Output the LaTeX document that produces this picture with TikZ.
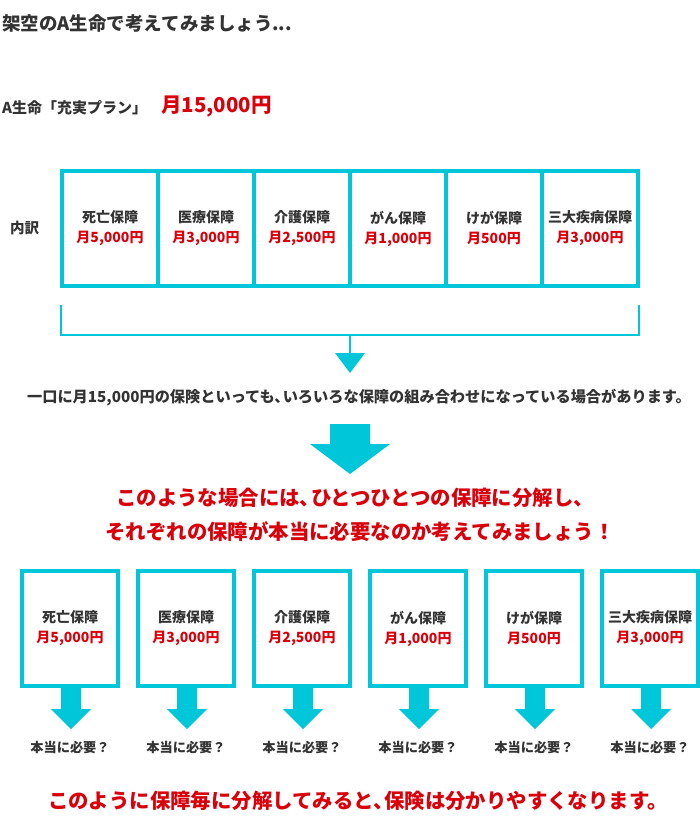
\documentclass[tikz,border=0pt]{standalone}
\usepackage{fontspec}
\setmainfont{Noto Sans CJK JP}
\usetikzlibrary{calc}
\definecolor{cy}{HTML}{00C6DA}
\definecolor{rd}{HTML}{D9000A}
\definecolor{txt}{HTML}{333333}
\newcommand\fsz[2]{\fontsize{#1}{#2}\selectfont}
\newcommand\jcomma{、\kern-0.45em}
\begin{document}
\begin{tikzpicture}[x=1pt,y=-1pt,
  every node/.style={inner sep=0pt,text=txt},
  cell/.style={draw=cy,line width=4pt,minimum width=96pt,minimum height=115pt,align=center,font=\fsz{14}{20}\bfseries},
  box/.style={draw=cy,line width=4pt,minimum width=96pt,minimum height=115pt,align=center,font=\fsz{14}{20}\bfseries},
  ask/.style={font=\fsz{13.2}{16}\bfseries},
  redhead/.style={font=\fsz{20.4}{24}\bfseries,text=rd},
  bline/.style={draw=cy,line width=2.5pt},
  blk/.style={fill=cy,draw=none}]
\useasboundingbox (0,0) rectangle (700,840);

\node[anchor=west,font=\fsz{18.5}{22}\bfseries] (title) at (2,24) {架空のA生命で考えてみましょう...};
\node[anchor=west,font=\fsz{15}{17}\bfseries] (plan) at (2,108) {A生命「充実プラン」};
\node[anchor=west,font=\fsz{20.5}{24}\bfseries,text=rd] (price) at (161,107) {月15,000円};
\node[anchor=west,font=\fsz{14.5}{17}\bfseries] (uchi) at (10,228) {内訳};

\node[cell] (c1) at (110,228.5) {死亡保障\\\textcolor{rd}{月5,000円}};
\node[cell] (c2) at (206,228.5) {医療保障\\\textcolor{rd}{月3,000円}};
\node[cell] (c3) at (302,228.5) {介護保障\\\textcolor{rd}{月2,500円}};
\node[cell] (c4) at (398,228.5) {がん保障\\\textcolor{rd}{月1,000円}};
\node[cell] (c5) at (494,228.5) {けが保障\\\textcolor{rd}{月500円}};
\node[cell] (c6) at (590,228.5) {三大疾病保障\\\textcolor{rd}{月3,000円}};

\coordinate (bl) at (61,305);
\coordinate (br) at (639,305);
\coordinate (bm) at (350,335);
\coordinate (tip) at (350,354);
\draw[bline] (bl) -- (bl |- bm) -- (br |- bm) -- (br);
\draw[cy,line width=2pt] (bm) -- (tip);
\fill[blk] ($(tip)+(-15,-1)$) -- ($(tip)+(15,-1)$) -- ($(tip)+(0,19)$) -- cycle;

\node[font=\fsz{15.2}{18}\bfseries] (note) at (359,398) {一口に月15,000円の保険といっても\jcomma いろいろな保障の組み合わせになっている場合があります。};

\fill[blk] (330,424) -- (370,424) -- (370,444) -- (390,444) -- (350,474) -- (310,444) -- (330,444) -- cycle;

\node[redhead] (head1) at (355,498) {このような場合には\jcomma ひとつひとつの保障に分解し、};
\node[redhead] (head2) at (360,532) {それぞれの保障が本当に必要なのか考えてみましょう！};

\foreach \i/\n/\a in {0/死亡保障/月5{,}000円,1/医療保障/月3{,}000円,2/介護保障/月2{,}500円,3/がん保障/月1{,}000円,4/けが保障/月500円,5/三大疾病保障/月3{,}000円}{
  \pgfmathsetmacro\cx{70+116*\i}
  \node[box] (b\i) at (\cx,628.5) {\n\\\textcolor{rd}{\a}};
  \fill[blk] ($(b\i.south)+(-9,0)$) -- ($(b\i.south)+(11,0)$) -- ($(b\i.south)+(11,21)$) -- ($(b\i.south)+(21,21)$) -- ($(b\i.south)+(1,41)$) -- ($(b\i.south)+(-19,21)$) -- ($(b\i.south)+(-9,21)$) -- cycle;
  \node[ask] (q\i) at (\cx,747) {本当に必要？};
}

\node[redhead] (concl) at (358,801) {このように保障毎に分解してみると\jcomma 保険は分かりやすくなります。};
\end{tikzpicture}
\end{document}
